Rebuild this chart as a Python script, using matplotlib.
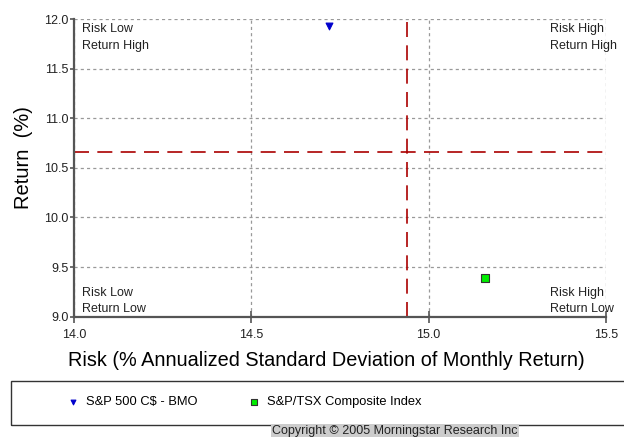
import matplotlib
matplotlib.use("Agg")
import matplotlib.pyplot as plt
from matplotlib.patches import Rectangle

plt.rcParams['font.family'] = ['Liberation Sans', 'DejaVu Sans']

series_names = ["S&P 500 C$ - BMO", "S&P/TSX Composite Index"]
risk = [14.72, 15.16]
ret = [11.93, 9.39]
markers = ["v", "s"]
colors = ["#0000cc", "#00ee00"]

ref_risk = 14.94
ref_return = 10.655

xticks = [14.0, 14.5, 15.0, 15.5]
yticks = [9.0, 9.5, 10.0, 10.5, 11.0, 11.5, 12.0]

fig = plt.figure(figsize=(6.24, 4.37), dpi=100)
ax = fig.add_axes([0.1186, 0.2753, 0.8524, 0.6812])
ax.set_xlim(14.0, 15.5)
ax.set_ylim(9.0, 12.0)
ax.set_xticks(xticks)
ax.set_yticks(yticks)
ax.set_xticklabels([f"{v:.1f}" for v in xticks], fontsize=9, color="#222222")
ax.set_yticklabels([f"{v:.1f}" for v in yticks], fontsize=9, color="#222222")
ax.grid(True, linestyle=(0, (2.5, 2.5)), color="#999999", linewidth=0.9)
ax.set_axisbelow(True)
for s in ["top", "right"]:
    ax.spines[s].set_visible(False)
for s in ["left", "bottom"]:
    ax.spines[s].set_color("#555555")
    ax.spines[s].set_linewidth(1.6)
ax.tick_params(axis='x', direction='inout', length=8, width=1.2, color="#555555", pad=5)
ax.tick_params(axis='y', direction='out', length=3, width=1.2, color="#555555", pad=1)

ax.axvline(ref_risk, color="#aa0000", linewidth=1.2, dashes=(9, 5))
ax.axhline(ref_return, color="#aa0000", linewidth=1.2, dashes=(9, 5))

handles = []
for name, x, y, m, c in zip(series_names, risk, ret, markers, colors):
    h = ax.scatter([x], [y], marker=m, s=24 if m == "v" else 30, color=c,
                   edgecolors="#333333" if m == "s" else c, linewidths=0.8,
                   zorder=5, label=name)
    handles.append(h)

qfs = 9
xr = 0.895
ax.text(0.015, 0.985, "Risk Low\nReturn High", transform=ax.transAxes, va="top", ha="left",
        fontsize=qfs, linespacing=1.5, color="#222222")
ax.text(xr, 0.985, "Risk High\nReturn High", transform=ax.transAxes, va="top", ha="left",
        fontsize=qfs, linespacing=1.5, color="#222222")
ax.text(0.015, 0.005, "Risk Low\nReturn Low", transform=ax.transAxes, va="bottom", ha="left",
        fontsize=qfs, linespacing=1.5, color="#222222")
ax.text(xr, 0.005, "Risk High\nReturn Low", transform=ax.transAxes, va="bottom", ha="left",
        fontsize=qfs, linespacing=1.5, color="#222222")

ax.set_xlabel("Risk (% Annualized Standard Deviation of Monthly Return)", fontsize=14.3)
ax.xaxis.set_label_coords(0.4746, -0.115)
ax.set_ylabel("Return  (%)", fontsize=14.5)
ax.yaxis.set_label_coords(-0.077, 0.533)

# legend frame
fig.patches.append(Rectangle((11 / 624, 1 - 425 / 437), 1.0, 44 / 437,
                             transform=fig.transFigure, fill=False,
                             edgecolor="#333333", linewidth=1.0))
fig.legend(handles=handles, labels=series_names, loc="center left",
           bbox_to_anchor=(0.09, 1 - 402 / 437), ncol=2, frameon=False,
           fontsize=9.3, handletextpad=0.6, columnspacing=4.0, handlelength=0.8,
           markerscale=0.7)

fig.text(0.633, 0.0, "Copyright \u00a9 2005 Morningstar Research Inc", ha="center", va="bottom",
         fontsize=9, color="#222222",
         bbox=dict(boxstyle="square,pad=0.1", facecolor="#cccccc", edgecolor="none"))

fig.savefig("out.png", dpi=100)
